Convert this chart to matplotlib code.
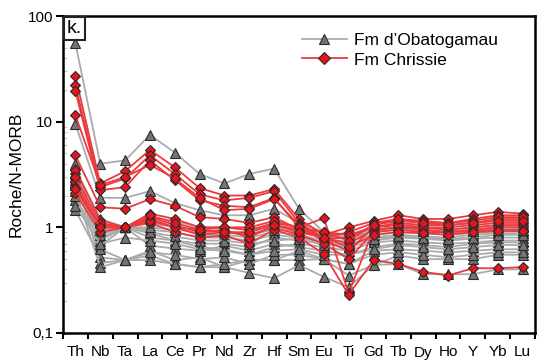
import matplotlib
matplotlib.use("Agg")
import matplotlib.pyplot as plt
from matplotlib.lines import Line2D
from matplotlib.ticker import FixedLocator, NullFormatter
import numpy as np

plt.rcParams['font.family'] = ['Liberation Sans', 'DejaVu Sans']

elements = ["Th", "Nb", "Ta", "La", "Ce", "Pr", "Nd", "Zr", "Hf", "Sm",
            "Eu", "Ti", "Gd", "Tb", "Dy", "Ho", "Y", "Yb", "Lu"]

# Fm d'Obatogamau (normalised to N-MORB)
obatogamau = [
    [55, 4.0, 4.3, 7.5, 5.1, 3.2, 2.6, 3.2, 3.6, 1.5, 0.9, 0.8, 1.0, 1.1, 1.0, 0.95, 1.0, 1.05, 1.05],
    [9.5, 1.9, 1.9, 2.2, 1.7, 1.45, 1.3, 1.3, 1.5, 1.1, 0.9, 0.85, 0.95, 1.0, 0.95, 0.9, 0.95, 1.0, 1.0],
    [4.0, 0.79, 1.0, 0.88, 0.75, 0.7, 0.7, 0.65, 0.8, 0.75, 0.7, 0.65, 0.75, 0.8, 0.78, 0.75, 0.78, 0.8, 0.8],
    [1.45, 0.52, 0.49, 0.6, 0.49, 0.52, 0.42, 0.49, 0.49, 0.49, 0.5, 0.35, 0.44, 0.54, 0.5, 0.5, 0.5, 0.55, 0.55],
    [3.2, 0.46, 0.49, 0.54, 0.45, 0.42, 0.42, 0.37, 0.33, 0.44, 0.34, 0.27, 0.44, 0.45, 0.36, 0.36, 0.36, 0.4, 0.4],
    [2.5, 0.67, 1.0, 0.67, 0.63, 0.6, 0.67, 0.6, 0.7, 0.65, 0.6, 0.55, 0.65, 0.7, 0.68, 0.65, 0.7, 0.72, 0.72],
    [2.2, 0.42, 0.49, 0.49, 0.45, 0.42, 0.45, 0.49, 0.49, 0.6, 0.5, 0.45, 0.6, 0.62, 0.6, 0.58, 0.6, 0.62, 0.62],
    [3.0, 1.0, 1.0, 1.1, 1.0, 0.85, 0.85, 0.8, 0.9, 0.85, 0.75, 0.75, 0.85, 0.9, 0.88, 0.85, 0.88, 0.92, 0.92],
    [1.8, 0.9, 1.0, 0.95, 0.9, 0.8, 0.8, 0.75, 0.85, 0.8, 0.72, 0.68, 0.8, 0.85, 0.82, 0.8, 0.85, 0.88, 0.88],
    [2.8, 0.75, 1.0, 0.8, 0.75, 0.65, 0.62, 0.55, 0.65, 0.7, 0.65, 0.6, 0.72, 0.75, 0.72, 0.7, 0.72, 0.75, 0.75],
    [3.6, 1.2, 1.0, 1.25, 1.15, 1.0, 1.0, 0.95, 1.05, 0.95, 0.8, 0.8, 0.92, 0.95, 0.95, 0.92, 0.95, 1.0, 1.0],
    [2.0, 0.62, 0.49, 0.58, 0.55, 0.5, 0.52, 0.45, 0.55, 0.55, 0.5, 0.45, 0.55, 0.58, 0.55, 0.52, 0.55, 0.58, 0.58],
    [2.6, 0.85, 1.0, 0.9, 0.82, 0.75, 0.75, 0.7, 0.75, 0.78, 0.68, 0.7, 0.78, 0.82, 0.8, 0.78, 0.8, 0.85, 0.85],
    [1.6, 0.7, 0.8, 0.75, 0.7, 0.62, 0.6, 0.55, 0.6, 0.62, 0.55, 0.55, 0.62, 0.68, 0.65, 0.62, 0.65, 0.68, 0.68],
    [3.3, 0.95, 1.0, 1.0, 0.95, 0.9, 0.9, 0.85, 0.95, 0.9, 0.85, 0.78, 0.9, 0.95, 0.92, 0.9, 0.92, 0.95, 0.95],
]

# Fm Chrissie (normalised to N-MORB)
chrissie = [
    [27, 2.6, 3.4, 5.4, 3.7, 2.35, 2.0, 2.0, 2.3, 1.2, 0.85, 1.0, 1.15, 1.3, 1.2, 1.2, 1.3, 1.4, 1.35],
    [22, 2.4, 2.9, 4.8, 3.2, 2.05, 1.8, 1.9, 2.2, 1.1, 0.8, 0.9, 1.1, 1.2, 1.15, 1.1, 1.2, 1.3, 1.3],
    [19.5, 2.25, 2.4, 4.3, 2.8, 1.8, 1.6, 1.55, 1.9, 1.0, 0.75, 0.6, 1.0, 1.1, 1.05, 1.05, 1.1, 1.2, 1.2],
    [11.5, 2.5, 3.0, 3.9, 2.9, 1.9, 1.45, 1.5, 1.85, 1.05, 0.78, 0.8, 1.05, 1.15, 1.1, 1.1, 1.15, 1.25, 1.25],
    [4.8, 1.55, 1.5, 1.85, 1.6, 1.25, 1.2, 1.1, 1.25, 0.95, 0.8, 0.7, 0.95, 1.0, 1.0, 0.95, 1.0, 1.05, 1.05],
    [3.5, 1.17, 1.0, 1.35, 1.2, 1.0, 1.0, 0.94, 1.1, 1.0, 1.22, 0.24, 0.95, 1.0, 0.95, 0.9, 0.95, 1.0, 1.0],
    [2.7, 1.0, 1.0, 1.2, 1.0, 0.85, 0.9, 0.85, 1.0, 0.85, 0.7, 0.5, 0.9, 0.95, 0.9, 0.9, 0.92, 0.95, 0.95],
    [2.1, 0.9, 1.0, 1.1, 0.9, 0.8, 0.84, 0.7, 0.95, 0.8, 0.56, 0.23, 0.49, 0.45, 0.38, 0.35, 0.41, 0.41, 0.42],
    [2.4, 1.05, 1.0, 1.25, 1.05, 0.9, 0.95, 0.8, 1.05, 0.95, 0.9, 0.85, 1.0, 1.05, 1.0, 1.0, 1.05, 1.1, 1.1],
    [3.0, 1.1, 1.0, 1.15, 1.0, 0.95, 1.0, 1.0, 1.15, 1.0, 0.9, 0.75, 1.05, 1.2, 1.1, 1.05, 1.1, 1.15, 1.15],
    [2.3, 1.0, 1.0, 1.3, 1.1, 0.95, 0.9, 0.9, 1.05, 0.9, 0.8, 0.65, 0.85, 0.9, 0.88, 0.85, 0.9, 0.92, 0.92],
]

label_obat = "Fm d\u2019Obatogamau"
label_chri = "Fm Chrissie"
panel_tag = "k."

GRAY_LINE = "#ababab"
GRAY_FACE = "#747474"
RED_LINE = "#ec3a3e"
RED_FACE = "#e8141c"
EDGE = "#2a2a2a"

fig = plt.figure(figsize=(5.39, 3.64), dpi=100)
ax = fig.add_axes([63 / 539, 1 - 333 / 364, (535 - 63) / 539, (333 - 16) / 364])

x = np.arange(len(elements))
for row in obatogamau:
    ax.plot(x, row, color=GRAY_LINE, lw=1.3, marker="^", ms=6.5,
            mfc=GRAY_FACE, mec=EDGE, mew=0.8, zorder=2)
for row in chrissie:
    ax.plot(x, row, color=RED_LINE, lw=1.3, marker="D", ms=5,
            mfc=RED_FACE, mec=EDGE, mew=0.8, zorder=3)

ax.set_yscale("log")
ax.set_ylim(0.1, 100)
ax.set_xlim(-0.5, len(elements) - 0.5)

ax.set_yticks([0.1, 1, 10, 100])
ax.set_yticklabels(["0,1", "1", "10", "100"])
ax.yaxis.set_minor_locator(FixedLocator(
    [m * 10.0 ** e for e in (-1, 0, 1) for m in range(2, 10)]))
ax.yaxis.set_minor_formatter(NullFormatter())
ax.tick_params(axis="y", which="major", direction="out", length=5, width=1.5,
               labelsize=11, pad=2)
ax.tick_params(axis="y", which="minor", direction="in", length=3, width=0.8,
               color="#c8c8c8")

# boundary ticks between elements, labels centred on each element
ax.set_xticks(np.arange(-0.5, len(elements), 1.0))
ax.set_xticklabels([])
ax.set_xticks(x, minor=True)
ax.set_xticklabels(elements, minor=True)
ax.tick_params(axis="x", which="major", direction="out", length=4, width=1.5)
ax.tick_params(axis="x", which="minor", length=0, labelsize=11, pad=9)

for s in ax.spines.values():
    s.set_linewidth(1.8)

ax.set_ylabel("Roche/N-MORB", fontsize=12.5, labelpad=3)

ax.text(0.008, 0.988, panel_tag, transform=ax.transAxes, fontsize=14,
        ha="left", va="top",
        bbox=dict(boxstyle="square,pad=0.15", fc="white", ec="#222222", lw=1.5),
        zorder=5)

handles = [
    Line2D([], [], color=GRAY_LINE, lw=1.3, marker="^", ms=7,
           mfc=GRAY_FACE, mec=EDGE, mew=0.8),
    Line2D([], [], color=RED_LINE, lw=1.3, marker="D", ms=6,
           mfc=RED_FACE, mec=EDGE, mew=0.8),
]
ax.legend(handles, [label_obat, label_chri], loc="upper left",
          bbox_to_anchor=(0.48, 0.985), frameon=False, fontsize=12.5,
          handlelength=2.6, handletextpad=0.4, labelspacing=0.25,
          borderpad=0.2)

fig.savefig("out.png", dpi=100)
